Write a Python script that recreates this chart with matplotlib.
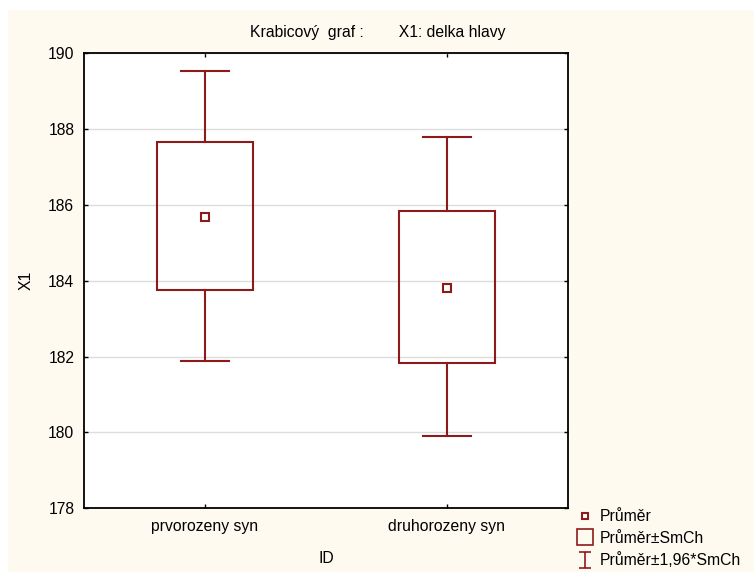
import matplotlib.pyplot as plt
from matplotlib.lines import Line2D
from matplotlib.patches import Rectangle
from matplotlib.path import Path

plt.rcParams['font.family'] = ['Liberation Sans', 'DejaVu Sans']

categories = ["prvorozeny syn", "druhorozeny syn"]
means = [185.69, 183.82]
box_low = [183.77, 181.82]     # Průměr - SmCh
box_high = [187.66, 185.85]    # Průměr + SmCh
whisk_low = [181.89, 179.91]   # Průměr - 1,96*SmCh
whisk_high = [189.53, 187.79]  # Průměr + 1,96*SmCh
yticks = [178, 180, 182, 184, 186, 188, 190]

red = '#8E1B1B'
fs = 11.3

fig = plt.figure(figsize=(7.54, 5.72), dpi=100, facecolor='white')
fig.patches.append(Rectangle((8/754, 0), 1, 562/572, transform=fig.transFigure,
                             facecolor='#FEFAF0', edgecolor='none', zorder=-10))
ax = fig.add_axes([84/754, 63.7/572, 484/754, 455/572])
ax.set_facecolor('white')

bw = 0.40
cw = 0.20
for i in range(len(categories)):
    ax.plot([i, i], [box_high[i], whisk_high[i]], color=red, lw=1.5, zorder=3)
    ax.plot([i, i], [whisk_low[i], box_low[i]], color=red, lw=1.5, zorder=3)
    ax.plot([i - cw/2, i + cw/2], [whisk_high[i]] * 2, color=red, lw=1.5, zorder=3)
    ax.plot([i - cw/2, i + cw/2], [whisk_low[i]] * 2, color=red, lw=1.5, zorder=3)
    ax.add_patch(Rectangle((i - bw/2, box_low[i]), bw, box_high[i] - box_low[i],
                           facecolor='none', edgecolor=red, lw=1.5, zorder=3))
    ax.plot(i, means[i], marker='s', ms=6, mfc='white', mec=red, mew=1.5, zorder=4)

ax.set_xlim(-0.5, 1.5)
ax.set_ylim(178, 190)
ax.set_yticks(yticks)
ax.set_xticks(range(len(categories)))
ax.set_xticklabels(categories)
ax.yaxis.grid(True, color='#dddddd', lw=1)
ax.set_axisbelow(True)
ax.tick_params(direction='in', length=3, width=1, top=True, right=True,
               labelsize=fs, pad=7)
ax.tick_params(axis='x', pad=8)
for s in ax.spines.values():
    s.set_linewidth(1.3)
    s.set_color('black')

ax.set_xlabel("ID", fontsize=fs, labelpad=12)
ax.set_ylabel("X1", fontsize=fs, labelpad=10)
fig.text(378/754, 1 - 33/572, "Krabicový  graf :        X1: delka hlavy",
         ha='center', va='center', fontsize=fs)

ibar = Path([(-0.7, 1), (0.7, 1), (0, 1), (0, -1), (-0.7, -1), (0.7, -1)],
            [Path.MOVETO, Path.LINETO, Path.MOVETO, Path.LINETO, Path.MOVETO, Path.LINETO])
handles = [
    Line2D([], [], ls='none', marker='s', ms=5, mfc='white', mec=red, mew=1.5),
    Line2D([], [], ls='none', marker='s', ms=11, mfc='none', mec=red, mew=1.2),
    Line2D([], [], ls='none', marker=ibar, ms=12, mfc='none', mec=red, mew=1.2),
]
labels = ["Průměr", "Průměr±SmCh", "Průměr±1,96*SmCh"]
fig.legend(handles, labels, loc='lower left', bbox_to_anchor=(565/754, -9/572),
           frameon=False, fontsize=fs, handlelength=1.0, handletextpad=0.4,
           labelspacing=0.42, borderpad=0.3)

fig.savefig("out.png", dpi=100, facecolor=fig.get_facecolor())
